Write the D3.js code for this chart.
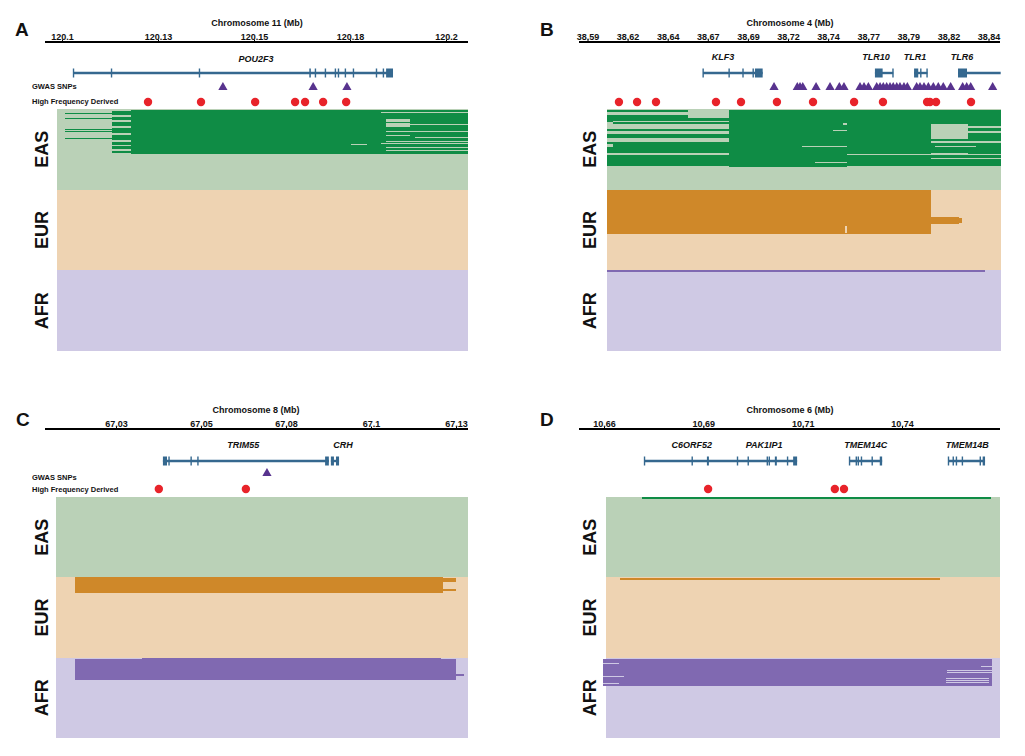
<!DOCTYPE html>
<html><head><meta charset="utf-8">
<script src="https://cdn.jsdelivr.net/npm/d3@7"></script>
<style>
body{margin:0;background:#fff;}
svg text{font-family:"Liberation Sans",Arial,Helvetica,sans-serif;font-weight:bold;fill:#111;}
</style></head><body>
<svg id="chart" width="1025" height="756"></svg>
<script>
// ---------------- DATA ----------------
const populations = ["EAS", "EUR", "AFR"];

// Panel A : chromosome 11
const ticksA = [120.1, 120.125, 120.15, 120.175, 120.2];
const tickLabelsA = ["120.1", "120.13", "120.15", "120.18", "120.2"];
const extentA = [120.0987, 120.2057];
const geneLinesA = [[120.1029, 120.1862]];
const exonsA = [[120.1029,120.1031],[120.1128,120.1130],[120.1357,120.1359],[120.1644,120.1648],[120.1659,120.1661],[120.1685,120.1687],[120.1711,120.1713],[120.1719,120.1721],[120.1737,120.1739],[120.1758,120.1760],[120.1818,120.1820],[120.1836,120.1838],[120.1844,120.1862]];
const geneLabelsA = [["POU2F3", 120.1505]];
const gwasA = [120.1419, 120.1654, 120.1742];
const hfdA = [120.1224, 120.1362, 120.1503, 120.1607, 120.1633, 120.1680, 120.1740];
// haplotype blocks: [population, firstRow, lastRow, startMb, endMb, derived(1)/ancestral(0)]
const hapA = [
 [0,1,45,120.1180,120.2057,1],
 [0,2,44,120.1130,120.1180,1],
 [0,4,5,120.1008,120.1130,1],
 [0,9,10,120.1008,120.1130,1],
 [0,20,21,120.1008,120.1130,1],
 [0,22,23,120.1008,120.1130,1],
 [0,29,30,120.1008,120.1130,1],
 [0,6,8,120.1130,120.1180,0],
 [0,11,13,120.1130,120.1180,0],
 [0,17,19,120.1130,120.1180,0],
 [0,24,26,120.1130,120.1180,0],
 [0,31,33,120.1130,120.1180,0],
 [0,36,37,120.1130,120.1180,0],
 [0,40,42,120.1130,120.1180,0],
 [0,3,4,120.1831,120.2057,0],
 [0,10,13,120.1844,120.1906,0],
 [0,14,18,120.1844,120.1906,0],
 [0,15,16,120.1906,120.2057,0],
 [0,22,23,120.1844,120.2057,0],
 [0,26,27,120.1844,120.1906,0],
 [0,28,29,120.1919,120.2057,0],
 [0,32,33,120.1844,120.2057,0],
 [0,34,35,120.1831,120.2057,0],
 [0,38,39,120.1844,120.2057,0],
 [0,41,42,120.1844,120.2057,0],
 [0,35,36,120.1752,120.1793,0]
];

// Panel B : chromosome 4
const ticksB = [38.59, 38.615, 38.64, 38.665, 38.69, 38.715, 38.74, 38.765, 38.79, 38.815, 38.84];
const tickLabelsB = ["38.59","38.62","38.64","38.67","38.69","38.72","38.74","38.77","38.79","38.82","38.84"];
const extentB = [38.6022, 38.8478];
const geneLinesB = [[38.6620, 38.6992], [38.7692, 38.7806], [38.7936, 38.8019], [38.8210, 38.8476]];
const exonsB = [[38.6620,38.6622],[38.6782,38.6784],[38.6866,38.6873],[38.6932,38.6934],[38.6944,38.6992],[38.7692,38.7740],[38.7803,38.7806],[38.7936,38.7962],[38.7977,38.7979],[38.8015,38.8019],[38.8210,38.8266]];
const geneLabelsB = [["KLF3", 38.6745], ["TLR10", 38.7699], ["TLR1", 38.7942], ["TLR6", 38.8235]];
const gwasB = [38.7063, 38.7208, 38.7225, 38.7242, 38.7325, 38.7412, 38.7470, 38.7499, 38.7599, 38.7624, 38.7651, 38.7703, 38.7724, 38.7744, 38.7765, 38.7786, 38.7806, 38.7828, 38.7848, 38.7873, 38.7894, 38.7952, 38.7973, 38.7998, 38.8025, 38.8056, 38.8087, 38.8118, 38.8164, 38.8239, 38.8264, 38.8289, 38.8426];
const hfdB = [38.6096, 38.6209, 38.6327, 38.6701, 38.6857, 38.7081, 38.7306, 38.7562, 38.7742, 38.8017, 38.8035, 38.8073, 38.8291];
const hapB = [
 [0,1,57,38.6022,38.6782,1],
 [0,1,58,38.6782,38.7518,1],
 [0,1,57,38.7518,38.8478,1],
 [0,1,9,38.6527,38.6782,0],
 [0,3,6,38.6022,38.6527,0],
 [0,12,13,38.6059,38.6782,0],
 [0,13,15,38.6022,38.6059,0],
 [0,15,20,38.6022,38.6782,0],
 [0,22,25,38.6022,38.6782,0],
 [0,29,33,38.6022,38.6782,0],
 [0,35,38,38.6022,38.6059,0],
 [0,44,46,38.6022,38.6782,0],
 [0,14,16,38.7493,38.7518,0],
 [0,21,22,38.7433,38.7518,0],
 [0,37,38,38.7237,38.7518,0],
 [0,53,54,38.7318,38.7518,0],
 [0,45,46,38.7518,38.8478,0],
 [0,15,30,38.8042,38.8272,0],
 [0,17,19,38.8272,38.8478,0],
 [0,22,24,38.8272,38.8478,0],
 [0,32,34,38.8042,38.8478,0],
 [0,37,38,38.8065,38.8321,0],
 [0,44,45,38.8042,38.8272,0],
 [0,49,50,38.8042,38.8478,0],
 [1,0,44,38.6022,38.8042,1],
 [1,27,34,38.8042,38.8216,1],
 [1,28,33,38.8216,38.8235,1],
 [1,36,43,38.7503,38.7518,0],
 [2,0,2,38.6022,38.8378,1]
];

// Panel C : chromosome 8
const ticksC = [67.03, 67.055, 67.08, 67.105, 67.13];
const tickLabelsC = ["67.03", "67.05", "67.08", "67.1", "67.13"];
const extentC = [67.0124, 67.1335];
const geneLinesC = [[67.0438, 67.0926], [67.0932, 67.0956]];
const exonsC = [[67.0438,67.0450],[67.0455,67.0457],[67.0520,67.0522],[67.0540,67.0542],[67.0915,67.0926],[67.0932,67.0941],[67.0947,67.0956]];
const geneLabelsC = [["TRIM55", 67.0674], ["CRH", 67.0968]];
const gwasC = [67.0744];
const hfdC = [67.0426, 67.0682];
const hapC = [
 [1,0,16,67.0179,67.1262,1],
 [1,1,5,67.1262,67.1300,1],
 [1,12,14,67.1262,67.1300,1],
 [2,0,1,67.0376,67.1256,1],
 [2,1,22,67.0179,67.1300,1],
 [2,16,18,67.1300,67.1324,1]
];

// Panel D : chromosome 6
const ticksD = [10.66, 10.685, 10.71, 10.735];
const tickLabelsD = ["10.66", "10.69", "10.71", "10.74"];
const extentD = [10.6605, 10.7597];
const geneLinesD = [[10.6701, 10.7086], [10.7217, 10.7300], [10.7466, 10.7559]];
const exonsD = [[10.6701,10.6703],[10.6821,10.6823],[10.6859,10.6864],[10.6935,10.6937],[10.6962,10.6964],[10.7010,10.7012],[10.7015,10.7017],[10.7030,10.7035],[10.7061,10.7063],[10.7076,10.7086],[10.7217,10.7219],[10.7234,10.7236],[10.7239,10.7241],[10.7247,10.7249],[10.7274,10.7276],[10.7294,10.7300],[10.7466,10.7468],[10.7478,10.7480],[10.7486,10.7488],[10.7501,10.7503],[10.7546,10.7548],[10.7553,10.7559]];
const geneLabelsD = [["C6ORF52", 10.6821], ["PAK1IP1", 10.7003], ["TMEM14C", 10.7259], ["TMEM14B", 10.7514]];
const gwasD = [];
const hfdD = [10.6862, 10.7181, 10.7204];
const hapD = [
 [0,0,2,10.6696,10.7574,1],
 [1,1,3,10.6640,10.7446,1],
 [2,1,28,10.6597,10.7577,1],
 [2,5,6,10.6597,10.6638,0],
 [2,18,19,10.6597,10.6650,0],
 [2,25,26,10.6597,10.6638,0],
 [2,8,9,10.7549,10.7577,0],
 [2,12,13,10.7463,10.7577,0],
 [2,14,15,10.7463,10.7577,0],
 [2,20,21,10.7461,10.7569,0],
 [2,22,23,10.7461,10.7569,0],
 [2,24,25,10.7461,10.7569,0]
];

// ---------------- STYLE / LAYOUT ----------------
const lightCol = ["#bad1b7", "#eed3b2", "#cfc9e4"];
const darkCol  = ["#0f8c45", "#cf8829", "#8069b1"];
const geneCol = "#35688f", gwasCol = "#58338e", hfdCol = "#e8232a";
const rowsPerPop = 80;

const panels = [
 {letter:"A", chrom:"Chromosome 11 (Mb)", ticks:ticksA, labels:tickLabelsA, extent:extentA, lines:geneLinesA, exons:exonsA, gl:geneLabelsA, gwas:gwasA, hfd:hfdA, hap:hapA,
  L:{lx:15, ly:36, range:[62,446], axX:[45,468], axY:42, tx:257, ty:26, gly:62, gy:73, triY:86, dotY:102, side:true, gwY:89, hfY:104, hap:[109,351], popX:47.5}},
 {letter:"B", chrom:"Chromosome 4 (Mb)", ticks:ticksB, labels:tickLabelsB, extent:extentB, lines:geneLinesB, exons:exonsB, gl:geneLabelsB, gwas:gwasB, hfd:hfdB, hap:hapB,
  L:{lx:540, ly:36, range:[587.5,988.5], axX:[579,1000], axY:42, tx:790, ty:26, gly:60, gy:73, triY:86, dotY:102, side:false, hap:[109,351], popX:595.5}},
 {letter:"C", chrom:"Chromosome 8 (Mb)", ticks:ticksC, labels:tickLabelsC, extent:extentC, lines:geneLinesC, exons:exonsC, gl:geneLabelsC, gwas:gwasC, hfd:hfdC, hap:hapC,
  L:{lx:16, ly:426, range:[116,456], axX:[45,468], axY:429, tx:256, ty:413, gly:448, gy:461, triY:472, dotY:489, side:true, gwY:480, hfY:492, hap:[497,738], popX:47.5}},
 {letter:"D", chrom:"Chromosome 6 (Mb)", ticks:ticksD, labels:tickLabelsD, extent:extentD, lines:geneLinesD, exons:exonsD, gl:geneLabelsD, gwas:gwasD, hfd:hfdD, hap:hapD,
  L:{lx:540, ly:426, range:[604,902], axX:[579,1000], axY:429, tx:790, ty:413, gly:448, gy:461, triY:472, dotY:489, side:false, hap:[497,738], popX:595.5}}
];

const svg = d3.select("#chart");
svg.append("rect").attr("width",1025).attr("height",756).attr("fill","#fff");

panels.forEach(p => {
  const L = p.L;
  const g = svg.append("g");
  const x = d3.scaleLinear()
    .domain([p.ticks[0], p.ticks[p.ticks.length-1]])
    .range(L.range);
  const y = d3.scaleLinear().domain([0, rowsPerPop*populations.length]).range(L.hap);

  g.append("text").attr("x", L.lx).attr("y", L.ly).attr("font-size", 19).text(p.letter);
  g.append("text").attr("x", L.tx).attr("y", L.ty).attr("text-anchor","middle")
    .attr("font-size", 9).text(p.chrom);

  // axis
  g.append("line").attr("x1", L.axX[0]).attr("x2", L.axX[1]).attr("y1", L.axY).attr("y2", L.axY)
    .attr("stroke","#000").attr("stroke-width", 2.2);
  const axis = d3.axisTop(x).tickValues(p.ticks)
    .tickFormat((d,i) => p.labels[i]).tickSizeInner(2.5).tickSizeOuter(0).tickPadding(0);
  const ag = g.append("g").attr("transform", `translate(0,${L.axY})`).call(axis);
  ag.select(".domain").remove();
  ag.selectAll(".tick line").attr("stroke","#000").attr("stroke-width",1);
  ag.selectAll(".tick text").attr("font-size", 9).attr("font-family",'"Liberation Sans",Arial,sans-serif')
    .attr("font-weight","bold").attr("fill","#111");

  // genes
  g.selectAll(".gl").data(p.lines).enter().append("line")
    .attr("x1", d => x(d[0])).attr("x2", d => x(d[1]))
    .attr("y1", L.gy).attr("y2", L.gy).attr("stroke", geneCol).attr("stroke-width", 2.4);
  g.selectAll(".ex").data(p.exons).enter().append("rect")
    .attr("x", d => { const w = x(d[1]) - x(d[0]); return w < 1.4 ? (x(d[0])+x(d[1]))/2 - 0.7 : x(d[0]); })
    .attr("width", d => Math.max(1.4, x(d[1]) - x(d[0])))
    .attr("y", L.gy - 4.5).attr("height", 9).attr("fill", geneCol);
  g.selectAll(".gn").data(p.gl).enter().append("text")
    .attr("x", d => x(d[1])).attr("y", L.gly).attr("text-anchor","middle")
    .attr("font-size", 9).attr("font-style","italic").text(d => d[0]);

  if (L.side) {
    g.append("text").attr("x", 32).attr("y", L.gwY).attr("font-size", 7.5).text("GWAS SNPs");
    g.append("text").attr("x", 32).attr("y", L.hfY).attr("font-size", 7.5).text("High Frequency Derived");
  }

  g.selectAll(".tri").data(p.gwas).enter().append("path")
    .attr("d", d => { const cx = x(d); return `M${cx-4.6},${L.triY+4}L${cx+4.6},${L.triY+4}L${cx},${L.triY-4}Z`; })
    .attr("fill", gwasCol);
  g.selectAll(".dot").data(p.hfd).enter().append("circle")
    .attr("cx", d => x(d)).attr("cy", L.dotY).attr("r", 4.2).attr("fill", hfdCol);

  // haplotype panels
  const hg = g.append("g").attr("shape-rendering","crispEdges");
  populations.forEach((pop, i) => {
    hg.append("rect")
      .attr("x", x(p.extent[0])).attr("width", x(p.extent[1]) - x(p.extent[0]))
      .attr("y", y(i*rowsPerPop)).attr("height", y((i+1)*rowsPerPop) - y(i*rowsPerPop))
      .attr("fill", lightCol[i]);
  });
  const segs = p.hap.slice().sort((a,b) => b[5] - a[5]);
  hg.selectAll(".seg").data(segs).enter().append("rect")
    .attr("x", d => x(d[3])).attr("width", d => x(d[4]) - x(d[3]))
    .attr("y", d => y(d[0]*rowsPerPop + d[1]))
    .attr("height", d => y(d[0]*rowsPerPop + d[2]) - y(d[0]*rowsPerPop + d[1]))
    .attr("fill", d => d[5] ? darkCol[d[0]] : lightCol[d[0]]);

  populations.forEach((pop, i) => {
    const cy = y(i*rowsPerPop + rowsPerPop/2);
    g.append("text").attr("transform", `translate(${L.popX},${cy}) rotate(-90)`)
      .attr("text-anchor","middle").attr("font-size", 18).text(pop);
  });
});
</script>
</body></html>
